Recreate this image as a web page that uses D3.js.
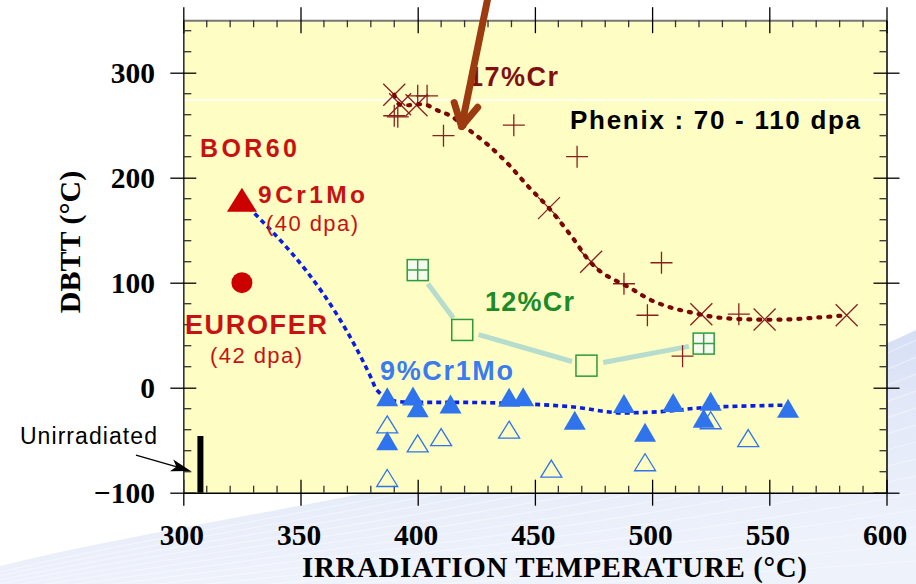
<!DOCTYPE html>
<html><head><meta charset="utf-8">
<script src="https://cdn.jsdelivr.net/npm/d3@7"></script>
<style>html,body{margin:0;padding:0;background:#fff;} svg{display:block}</style>
</head><body>
<script>
// ---------- data ----------
const xTicks = [300, 350, 400, 450, 500, 550, 600];
const yTicks = [-100, 0, 100, 200, 300];

// 17%Cr (Phenix) : "+" and "x" symbols and trend curve
const cr17PlusT = [390, 391.5, 400, 404, 411, 441, 468, 488, 498, 504, 513, 537];
const cr17PlusV = [259, 258, 278, 278, 240, 250, 220, 99, 69, 119, 30, 70];
const cr17CrossT = [390, 392.5, 399.5, 456, 474, 521, 548, 583];
const cr17CrossV = [279, 270, 269, 171, 120, 70, 65, 69];
const cr17CurveT = [390, 392, 396, 400, 404, 409.5, 414, 421, 429.6, 438.6, 447, 456, 466, 473.5, 479, 490.6, 499, 507.6, 516, 527.6, 541.7, 557.5, 571.6, 583];
const cr17CurveV = [279, 270, 269, 270, 269, 263, 259, 247, 232, 213, 192, 171, 143, 120, 109, 95, 84, 76.6, 72, 67, 65, 65, 67, 69];

// 12%Cr
const cr12T = [400, 419, 472, 522];
const cr12V = [112, 55, 21, 42];
const cr12Kind = ["grid", "open", "open", "grid"];

// 9%Cr1Mo (Phenix)
const mo9FilledT = [387, 398, 400, 414, 439, 445, 467, 488, 497, 509, 522, 525, 558, 387];
const mo9FilledV = [-8.5, -8, -19, -15.5, -9, -8.5, -31, -15, -42.5, -14, -29, -13, -19.5, -50.5];
const mo9OpenT = [387, 400, 410, 439, 457, 497, 525, 541, 387];
const mo9OpenV = [-35, -53, -47, -40, -77, -71, -31, -48, -86];
const mo9CurveT = [325, 380, 382.5, 391, 400, 420, 440, 465, 488, 502, 522, 549, 559];
const mo9CurveV = [178, 10, -2, -13, -14, -14, -15, -18, -24, -23, -19, -17, -16.5];

// BOR60
const bor9Cr1Mo = [325, 179];
const borEurofer = [325, 100];

// Unirradiated reference bar
const unirrT = 307.3;
const unirrV = [-100, -46];

// ---------- layout ----------
const W = 916, H = 584;
const svg = d3.select('body').append('svg').attr('width', W).attr('height', H);
const x = d3.scaleLinear([300, 600], [183.3, 886.5]);
const y = d3.scaleLinear([-100, 350], [492.7, 20.2]);
const SANS = "'Liberation Sans', Arial, sans-serif";
const SERIF = "'Liberation Serif', 'Times New Roman', serif";

// background swoosh
const defs = svg.append('defs');
const gr = defs.append('linearGradient').attr('id', 'sw')
  .attr('x1', 0).attr('y1', 0).attr('x2', 0.25).attr('y2', 1);
gr.append('stop').attr('offset', 0).attr('stop-color', '#cbd6f2');
gr.append('stop').attr('offset', 0.5).attr('stop-color', '#e2e8f8');
gr.append('stop').attr('offset', 1).attr('stop-color', '#eef2fb');
svg.append('path').attr('d', 'M0,566 C250,505 620,470 916,330 L916,584 L0,584Z').attr('fill', 'url(#sw)');
const waves = d3.range(0, 14);
svg.append('g').selectAll('path').data(waves).join('path')
  .attr('d', i => `M0,${572 + i * 4} C250,${512 + i * 7} 620,${478 + i * 8} 916,${340 + i * 17}`)
  .attr('fill', 'none').attr('stroke', '#ffffff').attr('stroke-opacity', 0.4).attr('stroke-width', 1.2);

// plot area
svg.append('rect').attr('x', x(300)).attr('y', y(350))
  .attr('width', x(600) - x(300)).attr('height', y(-100) - y(350)).attr('fill', '#FEFEC4');
svg.append('line').attr('x1', x(300)).attr('x2', x(600)).attr('y1', y(274)).attr('y2', y(274))
  .attr('stroke', '#ffffff').attr('stroke-width', 1.5);

// ---------- axes ----------
const minorX = d3.range(310, 600, 10).filter(v => v % 50 !== 0);
const minorY = d3.range(-80, 350, 20).filter(v => v % 100 !== 0);

const axB = svg.append('g').attr('transform', `translate(0,${y(-100)})`)
  .call(d3.axisBottom(x).tickValues(xTicks).tickSize(13).tickSizeOuter(0).tickFormat(d3.format('d')));
axB.selectAll('.tick line').attr('y1', -13).attr('stroke', '#000').attr('stroke-width', 1.3);
axB.selectAll('.tick text').attr('y', 52.3).attr('dy', 0).attr('x', -2)
  .attr('font-family', SERIF).attr('font-size', 29.5).attr('font-weight', 'bold').attr('fill', '#000');
axB.select('.domain').attr('stroke', '#000').attr('stroke-width', 1.5);

const axL = svg.append('g').attr('transform', `translate(${x(300)},0)`)
  .call(d3.axisLeft(y).tickValues(yTicks).tickSize(13).tickSizeOuter(0).tickFormat(d3.format('d')));
axL.selectAll('.tick line').attr('x1', 13).attr('stroke', '#000').attr('stroke-width', 1.3);
axL.selectAll('.tick text').attr('x', -28.3).attr('dy', '0.34em')
  .attr('font-family', SERIF).attr('font-size', 29.5).attr('font-weight', 'bold').attr('fill', '#000');
axL.select('.domain').attr('stroke', '#333').attr('stroke-width', 1.6);

const axT = svg.append('g').attr('transform', `translate(0,${y(350)})`)
  .call(d3.axisTop(x).tickValues(xTicks).tickSize(13).tickSizeOuter(0).tickFormat(''));
axT.selectAll('.tick line').attr('y1', 13).attr('stroke', '#000').attr('stroke-width', 1.3);
axT.select('.domain').attr('stroke', '#777').attr('stroke-width', 2);

const axR = svg.append('g').attr('transform', `translate(${x(600)},0)`)
  .call(d3.axisRight(y).tickValues(yTicks).tickSize(13).tickSizeOuter(0).tickFormat(''));
axR.selectAll('.tick line').attr('x1', -13).attr('stroke', '#000').attr('stroke-width', 1.3);
axR.select('.domain').attr('stroke', '#000').attr('stroke-width', 1.5);

const minorG = svg.append('g').attr('stroke', '#333').attr('stroke-width', 1.3);
minorG.selectAll('.mb').data(minorX).join('line')
  .attr('x1', d => x(d)).attr('x2', d => x(d)).attr('y1', y(-100)).attr('y2', y(-100) - 7);
minorG.selectAll('.mt').data(minorX).join('line').attr('class', 'mt')
  .attr('x1', d => x(d)).attr('x2', d => x(d)).attr('y1', y(350)).attr('y2', y(350) + 7);
minorG.selectAll('.ml').data(minorY).join('line').attr('class', 'ml')
  .attr('y1', d => y(d)).attr('y2', d => y(d)).attr('x1', x(300)).attr('x2', x(300) + 8);
minorG.selectAll('.mr').data(minorY).join('line').attr('class', 'mr')
  .attr('y1', d => y(d)).attr('y2', d => y(d)).attr('x1', x(600)).attr('x2', x(600) - 7);

// axis titles
svg.append('text').text('IRRADIATION TEMPERATURE (°C)')
  .attr('x', 302).attr('y', 577).attr('textLength', 505)
  .attr('font-family', SERIF).attr('font-size', 29).attr('font-weight', 'bold').attr('fill', '#000');
svg.append('text').text('DBTT (°C)')
  .attr('transform', 'translate(80,242) rotate(-90)').attr('text-anchor', 'middle')
  .attr('font-family', SERIF).attr('font-size', 30).attr('font-weight', 'bold').attr('fill', '#000');

// ---------- marks ----------
const tri = (w, h) => `M0,${-h / 2}L${w / 2},${h / 2}L${-w / 2},${h / 2}Z`;
const zip = (a, b) => a.map((v, i) => [v, b[i]]);

// Unirradiated bar
svg.append('rect').attr('x', x(unirrT) - 3).attr('width', 6)
  .attr('y', y(unirrV[1])).attr('height', y(unirrV[0]) - y(unirrV[1])).attr('fill', '#000');

// 12%Cr connecting lines (trimmed near markers)
const cr12 = zip(cr12T, cr12V);
const segs = d3.pairs(cr12).map(([a, b]) => {
  const ax = x(a[0]), ay = y(a[1]), bx = x(b[0]), by = y(b[1]);
  const L = Math.hypot(bx - ax, by - ay), ux = (bx - ax) / L, uy = (by - ay) / L;
  return [ax + ux * 17, ay + uy * 17, bx - ux * 15, by - uy * 15];
});
svg.append('g').selectAll('line').data(segs).join('line')
  .attr('x1', d => d[0]).attr('y1', d => d[1]).attr('x2', d => d[2]).attr('y2', d => d[3])
  .attr('stroke', '#b6dccd').attr('stroke-width', 5);

// 9%Cr1Mo trend line
svg.append('path').datum(zip(mo9CurveT, mo9CurveV))
  .attr('d', d3.line().x(d => x(d[0])).y(d => y(d[1])).curve(d3.curveMonotoneX))
  .attr('fill', 'none').attr('stroke', '#0a1ee0').attr('stroke-width', 3.6).attr('stroke-dasharray', '5 4');

// 9%Cr1Mo markers
svg.append('g').selectAll('path').data(zip(mo9OpenT, mo9OpenV)).join('path')
  .attr('d', tri(21, 17)).attr('transform', d => `translate(${x(d[0])},${y(d[1])})`)
  .attr('fill', 'none').attr('stroke', '#2f74ec').attr('stroke-width', 1.3);
svg.append('g').selectAll('path').data(zip(mo9FilledT, mo9FilledV)).join('path')
  .attr('d', tri(22, 19)).attr('transform', d => `translate(${x(d[0])},${y(d[1])})`)
  .attr('fill', '#2f74ec');

// 12%Cr markers
const sq = 21;
const cr12G = svg.append('g').selectAll('g').data(cr12.map((d, i) => ({ d, k: cr12Kind[i] }))).join('g')
  .attr('transform', o => `translate(${x(o.d[0])},${y(o.d[1])})`);
cr12G.append('rect').attr('x', -sq / 2).attr('y', -sq / 2).attr('width', sq).attr('height', sq)
  .attr('fill', o => o.k === 'grid' ? '#f6fbf0' : 'none').attr('stroke', '#2e9a3a').attr('stroke-width', 1.5);
cr12G.filter(o => o.k === 'grid').append('path')
  .attr('d', `M0,${-sq / 2}V${sq / 2}M${-sq / 2},0H${sq / 2}`).attr('stroke', '#3aa046').attr('stroke-width', 1.5);

// 17%Cr markers
const a = 11;
svg.append('g').selectAll('path').data(zip(cr17PlusT, cr17PlusV)).join('path')
  .attr('d', `M${-a},0H${a}M0,${-a}V${a}`).attr('transform', d => `translate(${x(d[0])},${y(d[1])})`)
  .attr('stroke', '#8a1f1f').attr('stroke-width', 1.3);
svg.append('g').selectAll('path').data(zip(cr17CrossT, cr17CrossV)).join('path')
  .attr('d', `M${-a},${-a}L${a},${a}M${-a},${a}L${a},${-a}`).attr('transform', d => `translate(${x(d[0])},${y(d[1])})`)
  .attr('stroke', '#8a1f1f').attr('stroke-width', 1.3);

// 17%Cr trend curve
svg.append('path').datum(zip(cr17CurveT, cr17CurveV))
  .attr('d', d3.line().x(d => x(d[0])).y(d => y(d[1])).curve(d3.curveCatmullRom))
  .attr('fill', 'none').attr('stroke', '#7a0606').attr('stroke-width', 4.2)
  .attr('stroke-linecap', 'round').attr('stroke-dasharray', '2 8');

// BOR60 markers
svg.append('path').attr('d', tri(30, 24))
  .attr('transform', `translate(${x(bor9Cr1Mo[0])},${y(bor9Cr1Mo[1])})`).attr('fill', '#cc0000');
svg.append('circle').attr('cx', x(borEurofer[0])).attr('cy', y(borEurofer[1])).attr('r', 10.5).attr('fill', '#cc0000');

// ---------- annotations (positions in data units) ----------
const labels = [
  { t: '17%Cr', T: 421.5, V: 287.3, fs: 27, fw: 'bold', c: '#7f1010', L: 90 },
  { t: 'Phenix : 70 - 110 dpa', T: 465, V: 246.4, fs: 26, fw: 'bold', c: '#000', L: 290 },
  { t: 'BOR60', T: 307.1, V: 220, fs: 25, fw: 'bold', c: '#c81212', L: 97 },
  { t: '9Cr1Mo', T: 331.9, V: 176.2, fs: 24.5, fw: 'bold', c: '#c81212', L: 107 },
  { t: '(40 dpa)', T: 335.3, V: 149.2, fs: 22, fw: 'normal', c: '#c81212', L: 92 },
  { t: 'EUROFER', T: 300.7, V: 51.1, fs: 27, fw: 'bold', c: '#c81212', L: 142 },
  { t: '(42 dpa)', T: 311.4, V: 23.8, fs: 22, fw: 'normal', c: '#c81212', L: 92 },
  { t: '12%Cr', T: 428.7, V: 73, fs: 27, fw: 'bold', c: '#1e8a28', L: 89 },
  { t: '9%Cr1Mo', T: 383.9, V: 7.3, fs: 27, fw: 'bold', c: '#3a7cf0', L: 133 },
  { t: 'Unirradiated', T: 230.3, V: -53.6, fs: 23, fw: 'normal', c: '#000', L: 137 }
];
svg.append('g').selectAll('text').data(labels).join('text')
  .text(d => d.t).attr('x', d => x(d.T)).attr('y', d => y(d.V))
  .attr('textLength', d => d.L).attr('lengthAdjust', 'spacing')
  .attr('font-family', SANS).attr('font-size', d => d.fs).attr('font-weight', d => d.fw).attr('fill', d => d.c);

// Unirradiated arrow
{
  const x0 = x(279.8), y0 = y(-64.1), x1 = x(303.2), y1 = y(-79.3);
  const L = Math.hypot(x1 - x0, y1 - y0), ux = (x1 - x0) / L, uy = (y1 - y0) / L, px = -uy, py = ux;
  svg.append('line').attr('x1', x0).attr('y1', y0).attr('x2', x1 - ux * 10).attr('y2', y1 - uy * 10)
    .attr('stroke', '#000').attr('stroke-width', 1.3);
  const bx = x1 - ux * 20, by = y1 - uy * 20, mx = x1 - ux * 15, my = y1 - uy * 15;
  svg.append('path').attr('d', `M${x1},${y1}L${bx + px * 6},${by + py * 6}L${mx},${my}L${bx - px * 6},${by - py * 6}Z`)
    .attr('fill', '#000');
}

// big arrow pointing at the 17%Cr curve
{
  const x0 = x(430), y0 = y(372), x1 = x(418.7), y1 = y(248.8);
  const L = Math.hypot(x1 - x0, y1 - y0), ux = (x1 - x0) / L, uy = (y1 - y0) / L, px = -uy, py = ux;
  const g = svg.append('g').attr('stroke', '#9c3a10').attr('stroke-width', 7)
    .attr('stroke-linecap', 'round').attr('stroke-linejoin', 'round').attr('fill', 'none');
  g.append('line').attr('x1', x0).attr('y1', y0).attr('x2', x1).attr('y2', y1);
  g.append('path').attr('d',
    `M${x1 - ux * 22 - px * 12},${y1 - uy * 22 - py * 12}L${x1},${y1}L${x1 - ux * 22 + px * 12},${y1 - uy * 22 + py * 12}`);
}
</script>
</body></html>
